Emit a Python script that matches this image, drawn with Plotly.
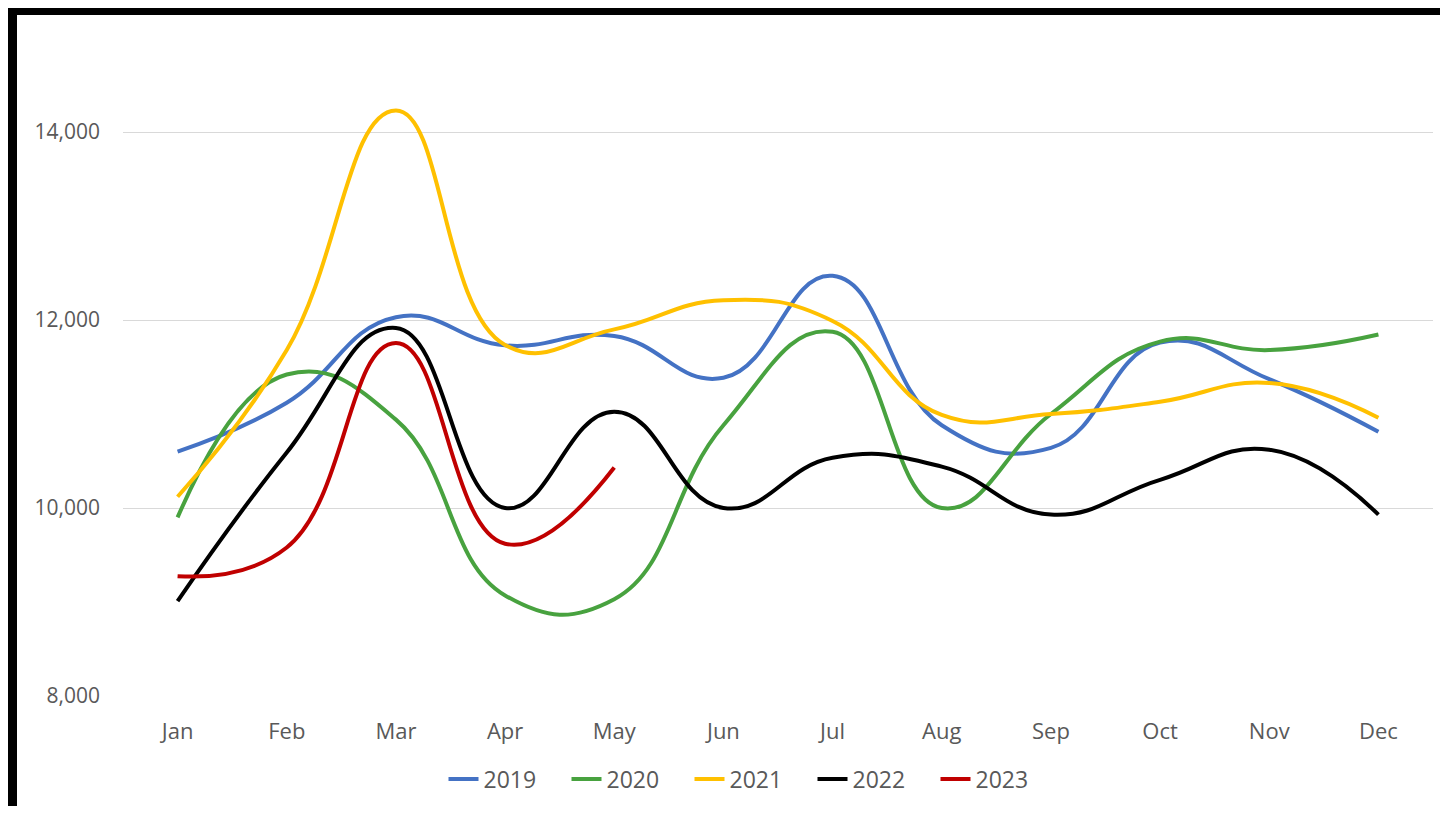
import plotly.graph_objects as go

months = ["Jan", "Feb", "Mar", "Apr", "May", "Jun", "Jul", "Aug", "Sep", "Oct", "Nov", "Dec"]
y2019 = [10600, 11120, 12030, 11730, 11830, 11385, 12470, 10880, 10640, 11760, 11370, 10810]
y2020 = [9900, 11420, 10940, 9070, 9030, 10880, 11875, 10000, 11000, 11770, 11680, 11845]
y2021 = [10120, 11680, 14230, 11735, 11900, 12210, 11990, 10990, 11000, 11130, 11330, 10960]
y2022 = [9010, 10590, 11915, 10000, 11025, 10000, 10535, 10440, 9930, 10300, 10620, 9930]
y2023 = [9275, 9580, 11755, 9620, 10430]

series = [
    ("2019", y2019, "#4472C4"),
    ("2020", y2020, "#48A23F"),
    ("2021", y2021, "#FFC000"),
    ("2022", y2022, "#000000"),
    ("2023", y2023, "#C00000"),
]

fig = go.Figure()
for name, vals, color in series:
    fig.add_trace(go.Scatter(
        x=months[:len(vals)], y=vals, name=name, mode="lines",
        line=dict(color=color, width=4, shape="spline", smoothing=1.3),
    ))

# the page body has an 8px margin, so the figure starts at (8, 8);
# keep it inside the window so no scrollbars appear
W, H = 1432, 798
ml, mr, mt, mb = 115, 7, 30, 109
pw, ph = W - ml - mr, H - mt - mb

def px(x):
    return (x - ml) / pw

def py(y):
    return (H - mb - y) / ph

fig.update_layout(
    width=W, height=H,
    margin=dict(l=ml, r=mr, t=mt, b=mb),
    paper_bgcolor="white", plot_bgcolor="white",
    font=dict(family="Open Sans", size=22, color="#595959"),
    showlegend=True,
    legend=dict(orientation="h", x=px(743), xanchor="center", y=py(771), yanchor="middle",
                font=dict(size=23, color="#595959"), itemwidth=30, tracegroupgap=0,
                entrywidth=78, entrywidthmode="pixels"),
    xaxis=dict(type="category", range=[-0.5, 11.5], showgrid=False, showline=False,
               zeroline=False, ticks="", ticklabelstandoff=20,
               tickfont=dict(size=22, color="#595959")),
    yaxis=dict(range=[8000, 15000], tick0=8000, dtick=2000, tickformat=",d",
               showgrid=True, gridcolor="#D9D9D9", gridwidth=1.3, showline=False,
               zeroline=False, ticks="", ticklabelstandoff=22,
               tickfont=dict(size=21, color="#595959")),
    shapes=[
        dict(type="line", xref="paper", yref="paper", x0=px(4), x1=px(4), y0=py(-10), y1=py(H + 10),
             line=dict(color="black", width=10), layer="above"),
        dict(type="line", xref="paper", yref="paper", x0=px(-10), x1=px(W + 10), y0=py(3), y1=py(3),
             line=dict(color="black", width=8), layer="above"),
    ],
)

fig.write_html("out.html")
